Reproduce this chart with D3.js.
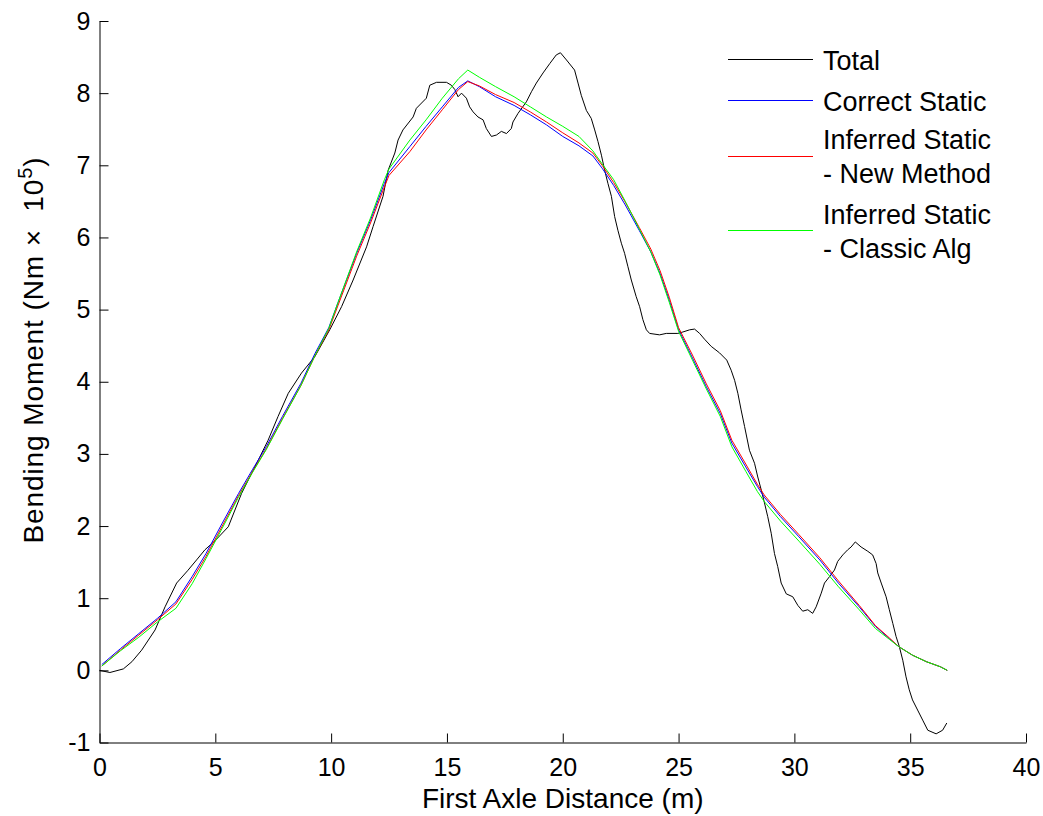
<!DOCTYPE html>
<html>
<head>
<meta charset="utf-8">
<script src="https://cdn.jsdelivr.net/npm/d3@7"></script>
<style>
  html, body { margin: 0; padding: 0; background: #fff; }
  svg { display: block; font-family: "Liberation Sans", Arial, Helvetica, sans-serif; }
</style>
</head>
<body>
<svg id="chart" width="1043" height="816"></svg>
<script>
// ---------- data ----------
const xTicks = [0, 5, 10, 15, 20, 25, 30, 35, 40];
const yTicks = [-1, 0, 1, 2, 3, 4, 5, 6, 7, 8, 9];

const totalX = [0, 0.45, 1.03, 1.4, 1.82, 2.4, 2.83, 3.33, 3.8, 4.19, 4.55, 5.0, 5.56, 6.13, 6.71, 7.28, 7.71, 8.15, 8.72, 9.3, 9.94, 10.45, 10.95, 11.53, 11.81, 12.24, 12.46, 12.75, 12.89, 13.1, 13.54, 13.68, 14.11, 14.26, 14.55, 14.98, 15.19, 15.34, 15.48, 15.63, 15.84, 15.98, 16.13, 16.34, 16.56, 16.7, 16.92, 17.14, 17.35, 17.57, 17.78, 17.85, 18.07, 18.43, 18.65, 18.86, 19.15, 19.44, 19.72, 19.9, 20.16, 20.51, 20.66, 20.8, 21.02, 21.23, 21.38, 21.52, 21.67, 21.81, 21.95, 22.1, 22.24, 22.38, 22.53, 22.67, 22.81, 22.96, 23.17, 23.32, 23.46, 23.61, 23.75, 24.18, 24.47, 24.97, 25.19, 25.48, 25.69, 25.91, 26.12, 26.41, 26.77, 27.08, 27.27, 27.42, 27.56, 27.7, 27.85, 28.06, 28.28, 28.42, 28.57, 28.71, 28.85, 29.0, 29.14, 29.28, 29.43, 29.65, 29.93, 30.15, 30.36, 30.58, 30.79, 30.94, 31.16, 31.3, 31.52, 31.73, 31.87, 32.09, 32.3, 32.45, 32.63, 32.88, 33.17, 33.38, 33.53, 33.6, 33.75, 33.96, 34.1, 34.25, 34.39, 34.53, 34.68, 34.82, 34.96, 35.1, 35.32, 35.54, 35.76, 36.12, 36.4, 36.58];
const totalY = [0.0, -0.03, 0.02, 0.12, 0.28, 0.56, 0.88, 1.21, 1.38, 1.53, 1.67, 1.80, 1.99, 2.45, 2.82, 3.19, 3.52, 3.84, 4.12, 4.35, 4.72, 5.04, 5.41, 5.87, 6.15, 6.57, 6.93, 7.17, 7.35, 7.49, 7.67, 7.79, 7.93, 8.11, 8.15, 8.15, 8.11, 8.05, 7.95, 8.0, 7.93, 7.81, 7.74, 7.67, 7.63, 7.51, 7.40, 7.42, 7.47, 7.44, 7.51, 7.6, 7.72, 7.88, 8.02, 8.14, 8.28, 8.41, 8.53, 8.56, 8.46, 8.32, 8.14, 7.97, 7.76, 7.65, 7.49, 7.33, 7.14, 6.93, 6.75, 6.57, 6.29, 6.10, 5.92, 5.78, 5.60, 5.41, 5.18, 5.04, 4.86, 4.72, 4.67, 4.65, 4.67, 4.67, 4.69, 4.72, 4.73, 4.67, 4.59, 4.49, 4.40, 4.30, 4.16, 4.02, 3.84, 3.61, 3.38, 3.05, 2.87, 2.68, 2.50, 2.32, 2.13, 1.90, 1.62, 1.44, 1.21, 1.06, 1.02, 0.90, 0.82, 0.84, 0.79, 0.88, 1.07, 1.21, 1.30, 1.39, 1.51, 1.60, 1.67, 1.71, 1.78, 1.71, 1.65, 1.60, 1.48, 1.35, 1.21, 1.02, 0.84, 0.65, 0.47, 0.33, 0.14, -0.09, -0.27, -0.41, -0.55, -0.69, -0.83, -0.88, -0.83, -0.73];

const staticX = [0.1, 0.9, 1.7, 2.5, 3.3, 4.0, 4.6, 5.3, 6.0, 6.6, 7.2, 7.9, 8.7, 9.3, 9.9, 10.3, 11.1, 11.7, 12.3, 12.5, 13.4, 14.1, 14.8, 15.5, 15.9, 16.4, 17.1, 17.9, 18.6, 19.3, 20.0, 20.7, 21.3, 21.7, 22.2, 22.7, 23.3, 23.8, 24.2, 24.6, 25.0, 25.6, 26.2, 26.8, 27.3, 27.9, 28.4, 28.7, 29.4, 30.2, 31.1, 31.9, 32.8, 33.5, 34.1, 34.5, 35.1, 35.7, 36.3, 36.6];
const correctStatic = [0.08, 0.3, 0.51, 0.72, 0.95, 1.30, 1.62, 2.04, 2.45, 2.78, 3.10, 3.52, 3.98, 4.39, 4.75, 5.10, 5.78, 6.24, 6.75, 6.90, 7.26, 7.54, 7.81, 8.08, 8.17, 8.09, 7.95, 7.83, 7.70, 7.56, 7.40, 7.27, 7.13, 6.96, 6.72, 6.45, 6.10, 5.80, 5.50, 5.13, 4.72, 4.33, 3.93, 3.56, 3.15, 2.82, 2.55, 2.40, 2.13, 1.85, 1.53, 1.21, 0.88, 0.61, 0.44, 0.33, 0.21, 0.12, 0.05, 0.0];
const newMethod = [0.06, 0.28, 0.49, 0.70, 0.92, 1.26, 1.58, 2.0, 2.42, 2.75, 3.07, 3.49, 3.95, 4.36, 4.72, 5.06, 5.74, 6.2, 6.7, 6.86, 7.19, 7.49, 7.77, 8.05, 8.16, 8.10, 7.98, 7.87, 7.74, 7.60, 7.45, 7.31, 7.17, 7.0, 6.76, 6.49, 6.14, 5.84, 5.54, 5.17, 4.75, 4.37, 3.97, 3.60, 3.19, 2.86, 2.58, 2.43, 2.16, 1.88, 1.56, 1.24, 0.90, 0.62, 0.45, 0.33, 0.21, 0.12, 0.05, 0.0];
const classicAlg = [0.06, 0.27, 0.46, 0.67, 0.86, 1.2, 1.55, 1.97, 2.40, 2.74, 3.06, 3.48, 3.95, 4.36, 4.74, 5.10, 5.80, 6.27, 6.80, 6.95, 7.35, 7.63, 7.93, 8.2, 8.32, 8.22, 8.09, 7.95, 7.81, 7.67, 7.54, 7.40, 7.20, 7.02, 6.80, 6.50, 6.12, 5.80, 5.48, 5.10, 4.70, 4.30, 3.90, 3.52, 3.10, 2.76, 2.48, 2.34, 2.07, 1.79, 1.47, 1.16, 0.84, 0.58, 0.43, 0.33, 0.21, 0.12, 0.05, 0.0];

const seriesNames = ["Total", "Correct Static", "Inferred Static\n- New Method", "Inferred Static\n- Classic Alg"];
const seriesColors = ["#000000", "#0000ff", "#ff0000", "#00ff00"];

// ---------- chart ----------
const svg = d3.select("#chart");
const x = d3.scaleLinear().domain([0, 40]).range([99.5, 1026]);
const y = d3.scaleLinear().domain([-1, 9]).range([742.5, 21]);

const series = [
  totalX.map((v, i) => [v, totalY[i]]),
  staticX.map((v, i) => [v, correctStatic[i]]),
  staticX.map((v, i) => [v, newMethod[i]]),
  staticX.map((v, i) => [v, classicAlg[i]])
];

const line = d3.line().x(d => x(d[0])).y(d => y(d[1]));

// axes
const fmt = d => String(d);
const xAxis = d3.axisBottom(x).tickValues(xTicks).tickFormat(fmt).tickSizeInner(-9).tickSizeOuter(0).tickPadding(16);
const yAxis = d3.axisLeft(y).tickValues(yTicks).tickFormat(fmt).tickSizeInner(-9).tickSizeOuter(0).tickPadding(9);

const gx = svg.append("g").attr("transform", `translate(0,${y(-1)})`).call(xAxis);
const gy = svg.append("g").attr("transform", `translate(${x(0)},0)`).call(yAxis);
[gx, gy].forEach(g => {
  g.selectAll("path.domain").attr("stroke", "#000").attr("stroke-width", 1);
  g.selectAll(".tick line").attr("stroke", "#000").attr("stroke-width", 1);
  g.selectAll(".tick text").attr("fill", "#000").style("font-size", "25px")
    .style("font-family", "'Liberation Sans', Arial, sans-serif");
});

// lines
svg.append("g").selectAll("path.series").data(series).join("path")
  .attr("class", "series")
  .attr("d", line)
  .attr("fill", "none")
  .attr("stroke", (d, i) => seriesColors[i])
  .attr("stroke-width", 1);

// axis labels
svg.append("text")
  .attr("x", (x(0) + x(40)) / 2).attr("y", 808)
  .attr("text-anchor", "middle")
  .style("font-size", "28px")
  .text("First Axle Distance (m)");

const yl = svg.append("text")
  .attr("transform", "translate(43,350) rotate(-90)")
  .attr("text-anchor", "middle")
  .style("font-size", "28px")
  .style("letter-spacing", "0.9px")
  .style("white-space", "pre");
yl.append("tspan").text("Bending Moment (Nm \u00d7  10");
yl.append("tspan").attr("dy", -11).style("font-size", "20px").text("5");
yl.append("tspan").attr("dy", 11).text(")");

// legend
const legendLineY = [59.5, 100.5, 156.5, 230.5];
const legendTextY = [[70], [111], [149, 183], [224, 258]];
const lg = svg.append("g");
seriesNames.forEach((name, i) => {
  lg.append("line")
    .attr("x1", 728).attr("x2", 813)
    .attr("y1", legendLineY[i]).attr("y2", legendLineY[i])
    .attr("stroke", seriesColors[i]).attr("stroke-width", 1);
  name.split("\n").forEach((t, j) => {
    lg.append("text")
      .attr("x", 823).attr("y", legendTextY[i][j])
      .style("font-size", "27px")
      .text(t);
  });
});
</script>
</body>
</html>
